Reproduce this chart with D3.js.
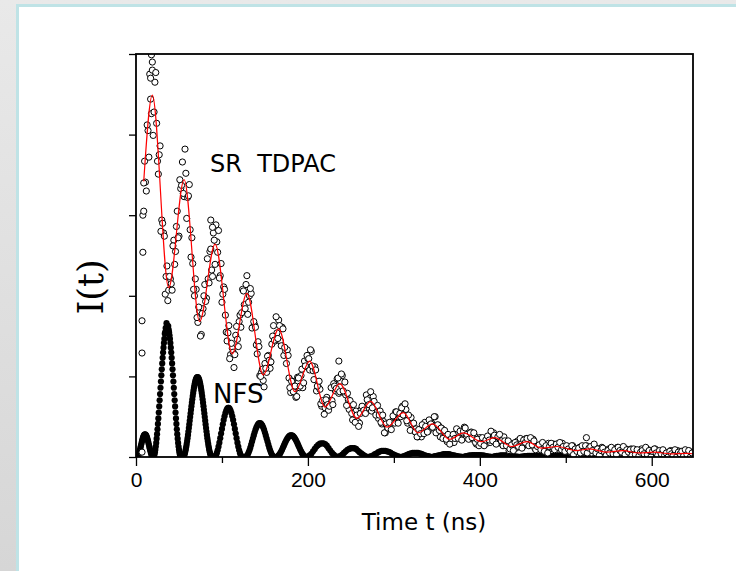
<!DOCTYPE html>
<html><head><meta charset="utf-8">
<script src="https://cdn.jsdelivr.net/npm/d3@7"></script>
<style>body{margin:0;background:#fff;} svg{display:block;}</style>
</head><body>
<svg id="chart" width="736" height="571"></svg>
<script>
// ---- axis ticks ----
const xTicks = [0, 200, 400, 600];
const xMinorTicks = [100, 300, 500];
const yTicks = [0, 1, 2, 3, 4, 5];

// ---- SR TDPAC (open circles), even channels 10..648 ns ----
const tdpacStart = 10, tdpacStep = 2;
const tdpacValues = [
3.67,3.30,4.05,4.75,4.26,3.99,4.65,4.14,3.51,3.86,2.94,2.78,2.02,2.37,2.07,2.21,2.07,2.69,2.55,3.05,
2.74,3.33,3.66,3.23,3.52,3.22,3.38,2.48,2.40,2.00,2.08,1.67,1.81,1.52,1.84,2.14,1.97,2.21,2.55,2.32,
2.78,2.39,2.67,2.81,2.25,1.92,2.11,1.76,1.44,1.63,1.27,1.35,1.11,1.51,1.46,1.68,1.61,2.08,1.89,2.14,
1.77,2.00,2.03,1.61,1.64,1.39,1.43,1.01,1.05,0.95,1.16,1.05,1.26,1.10,1.40,1.63,1.44,1.54,1.70,1.44,
1.61,1.26,1.32,1.33,0.98,0.80,0.94,0.82,0.74,0.99,0.86,1.01,0.86,1.19,1.12,1.22,1.08,1.31,1.07,1.12,
0.82,0.87,0.84,0.63,0.68,0.61,0.74,0.58,0.70,0.70,0.91,0.82,0.97,0.79,0.94,1.01,0.80,0.77,0.79,0.59,
0.65,0.46,0.53,0.57,0.44,0.42,0.59,0.57,0.55,0.77,0.65,0.73,0.57,0.75,0.63,0.62,0.48,0.57,0.41,0.44,
0.30,0.38,0.42,0.35,0.44,0.43,0.56,0.43,0.52,0.50,0.63,0.52,0.59,0.42,0.48,0.49,0.34,0.32,0.35,0.25,
0.34,0.25,0.34,0.43,0.34,0.32,0.45,0.42,0.36,0.50,0.36,0.39,0.25,0.35,0.26,0.27,0.19,0.27,0.20,0.26,
0.18,0.26,0.31,0.24,0.31,0.30,0.37,0.24,0.28,0.24,0.31,0.22,0.26,0.16,0.21,0.24,0.17,0.18,0.23,0.17,
0.25,0.18,0.25,0.30,0.21,0.18,0.27,0.21,0.16,0.25,0.15,0.17,0.08,0.17,0.12,0.15,0.11,0.20,0.14,0.20,
0.13,0.19,0.23,0.16,0.20,0.18,0.22,0.11,0.13,0.10,0.15,0.10,0.14,0.07,0.12,0.17,0.10,0.12,0.16,0.10,
0.16,0.09,0.13,0.17,0.10,0.07,0.13,0.10,0.06,0.14,0.07,0.10,0.03,0.12,0.08,0.10,0.06,0.14,0.08,0.12,
0.05,0.10,0.12,0.06,0.10,0.07,0.12,0.03,0.06,0.04,0.10,0.05,0.10,0.03,0.08,0.12,0.06,0.07,0.10,0.05,
0.10,0.03,0.07,0.10,0.04,0.01,0.08,0.05,0.02,0.10,0.05,0.07,0.01,0.09,0.05,0.07,0.03,0.10,0.04,0.07,
0.01,0.06,0.07,0.02,0.05,0.04,0.08,0.01,0.04,0.03,0.08,0.03,0.07,0.01,0.05,0.08,0.03,0.03,0.06,0.01
];
// odd channels 11..647 ns
const tdpacOddStart = 11, tdpacOddStep = 2;
const tdpacOddValues = [
3.41,4.12,3.72,4.44,4.80,4.28,4.77,3.67,3.75,2.80,2.90,2.74,2.24,1.94,2.24,2.15,2.62,2.39,2.86,2.72,
3.44,3.37,3.27,3.82,2.96,3.24,2.82,2.72,2.08,2.21,1.73,1.86,1.50,1.78,2.00,1.93,2.46,2.16,2.58,2.24,
2.69,2.88,2.54,2.22,2.40,2.02,2.08,1.55,1.54,1.22,1.41,1.30,1.27,1.62,1.37,1.76,1.79,2.06,1.84,2.25,
1.92,2.09,1.60,1.68,1.61,1.28,1.37,1.00,1.09,0.87,1.10,1.25,1.20,1.18,1.50,1.45,1.74,1.47,1.63,1.38,
1.59,1.36,1.16,1.26,0.86,0.94,0.81,0.88,0.75,0.98,0.88,1.09,0.92,1.13,1.26,
1.22,1.33,1.13,0.96,1.08,0.88,0.94,0.66,0.70,0.53,0.71,0.65,0.63,0.86,0.65,0.88,0.85,0.98,0.81,1.03,
0.82,0.93,0.64,0.71,0.70,0.54,0.65,0.43,0.52,0.38,0.54,0.63,0.58,0.54,0.71,0.65,0.81,0.61,0.69,0.52,
0.64,0.52,0.43,0.52,0.30,0.41,0.36,0.43,0.34,0.51,0.42,0.56,0.42,0.54,0.61,0.52,0.66,0.45,0.52,0.33,
0.41,0.42,0.31,0.25,0.34,0.29,0.40,0.29,0.38,0.31,0.46,0.41,0.37,0.50,0.30,0.40,0.33,0.36,0.23,0.33,
0.22,0.28,0.16,0.23,0.28,0.23,0.35,0.23,0.32,0.21,0.32,0.36,0.28,0.22,0.30,0.24,0.30,0.18,0.22,0.14,
0.17,0.24,0.14,0.21,0.26,0.21,0.32,0.20,0.27,0.16,0.25,0.28,0.20,0.14,0.20,0.14,0.20,0.10,0.15,0.08,
0.18,0.15,0.13,0.23,0.11,0.21,0.18,0.23,0.14,0.24,0.15,0.20,0.09,0.13,0.15,0.09,0.18,0.07,0.14,0.05,
0.13,0.17,0.12,0.09,0.16,0.12,0.18,0.09,0.13,0.07,0.14,0.10,0.07,0.14,0.03,0.10,0.07,0.11,0.05,0.14,
0.07,0.14,0.05,0.11,0.13,0.08,0.16,0.05,0.10,0.02,0.08,0.11,0.06,0.02,0.08,0.05,0.12,0.04,0.09,0.03,
0.12,0.08,0.06,0.13,0.03,0.09,0.06,0.09,0.02,0.10,0.03,0.09,0.01,0.06,0.08,0.04,0.12,0.03,0.08,0.00,
0.07,0.10,0.05,0.02,0.08,0.04,0.09,0.02,0.05,0.00,0.07,0.04,0.02,0.09,0.00,0.06,0.04,0.07,0.01,0.09,
0.03,0.08,0.00,0.05
];
// scattered points off the grid
const tdpacExtraTime = [7, 7, 7, 8, 8, 9, 9, 17, 18, 19, 87, 89, 236, 524];
const tdpacExtraValues = [0.06, 1.29, 1.69, 2.54, 3.00, 3.05, 3.40, 4.70, 4.99, 4.90, 2.94, 2.85, 1.19, 0.24];

// ---- fit (red line): extrema ----
const fitTime = [9,19,38,56,74,92,112,129,148,166,185,202,220,237,257,273,292,311,328,345,365,381,402,417,437,455,472,490,512,528,548,566,585,603,622,640,648];
const fitValues = [3.42,4.49,2.10,3.44,1.68,2.64,1.28,2.03,1.02,1.59,0.81,1.19,0.62,0.91,0.48,0.69,0.37,0.55,0.30,0.41,0.22,0.30,0.19,0.24,0.13,0.19,0.11,0.13,0.08,0.10,0.06,0.08,0.05,0.06,0.04,0.045,0.04];

// ---- NFS (filled dots) ----
// 0..90 ns every 0.5 ns
const nfsFineStart = 0, nfsFineStep = 0.5;
const nfsFineValues = [
0,0,0,0.002,0.008,0.017,0.03,0.045,0.064,0.084,0.106,0.128,0.151,0.174,0.196,0.216,0.235,0.251,0.263,0.272,
0.278,0.28,0.278,0.272,0.263,0.251,0.235,0.216,0.196,0.174,0.151,0.128,0.106,0.084,0.064,0.045,0.03,0.017,0.008,0.002,
0,0.004,0.015,0.033,0.059,0.091,0.13,0.175,0.227,0.283,0.344,0.41,0.479,0.552,0.627,0.703,0.781,0.859,0.937,1.013,
1.088,1.161,1.23,1.296,1.357,1.414,1.465,1.53,1.549,1.60,1.58,1.66,1.636,1.62,1.60,1.625,1.58,1.549,1.51,1.465,
1.414,1.357,1.296,1.23,1.161,1.088,1.013,0.937,0.859,0.781,0.703,0.627,0.552,0.479,0.41,0.344,0.283,0.227,0.175,0.13,
0.091,0.059,0.033,0.015,0.004,0,0,0,0,0,0.002,0.008,0.019,0.033,0.052,0.074,0.10,0.129,0.162,0.197,
0.234,0.274,0.316,0.359,0.404,0.449,0.495,0.541,0.586,0.631,0.674,0.716,0.756,0.793,0.829,0.861,0.89,0.916,0.938,0.957,
0.971,0.981,0.988,0.99,0.988,0.981,0.971,0.957,0.938,0.916,0.89,0.861,0.829,0.793,0.756,0.716,0.674,0.631,0.586,0.541,
0.495,0.449,0.404,0.359,0.316,0.274,0.234,0.197,0.162,0.129,0.10,0.074,0.052,0.033,0.019,0.008,0.002,0,0,0,
0
];
// 91..199 ns every 1 ns
const nfsMidStart = 91, nfsMidStep = 1;
const nfsMidValues = [
0,0.006,0.022,0.048,0.084,0.128,0.178,0.233,0.291,0.348,0.405,0.458,0.505,0.545,0.576,0.598,0.609,0.609,0.598,0.576,
0.545,0.505,0.458,0.405,0.348,0.291,0.233,0.178,0.128,0.084,0.048,0.022,0.006,0,0,0,0,0.004,0.014,0.031,
0.055,0.083,0.116,0.153,0.191,0.229,0.268,0.304,0.337,0.365,0.389,0.406,0.416,0.42,0.416,0.406,0.389,0.365,0.337,0.304,
0.268,0.229,0.191,0.153,0.116,0.083,0.055,0.031,0.014,0.004,0,0,0,0.002,0.009,0.019,0.033,0.051,0.071,0.093,
0.117,0.141,0.165,0.188,0.21,0.229,0.244,0.256,0.265,0.269,0.269,0.265,0.256,0.244,0.229,0.21,0.188,0.165,0.141,0.117,
0.093,0.071,0.051,0.033,0.019,0.009,0.002,0,0
];
// 200..648 ns every 2 ns
const nfsStart = 200, nfsStep = 2;
const nfsValues = [
0.005,0.02,0.04,0.07,0.10,0.13,0.15,0.165,0.17,0.17,0.16,0.14,0.11,0.08,0.05,0.03,0.01,0,
0.005,0.015,0.03,0.05,0.07,0.09,0.10,0.11,0.11,0.11,0.10,0.08,0.06,0.045,0.03,0.015,0.005,0,
0.005,0.01,0.02,0.035,0.045,0.06,0.07,0.075,0.075,0.075,0.07,0.065,0.055,0.04,0.03,0.02,0.01,0.005,0,
0.005,0.01,0.02,0.03,0.04,0.045,0.05,0.05,0.05,0.05,0.045,0.04,0.03,0.02,0.015,0.01,0.005,0,
0.005,0.01,0.015,0.02,0.025,0.03,0.035,0.035,0.035,0.035,0.03,0.025,0.02,0.015,0.01,0.005,0.005,0,
0.005,0.01,0.015,0.02,0.02,0.025,0.025,0.025,0.025,0.025,0.02,0.02,0.015,0.01,0.005,0.005,0,
0.005,0.01,0.015,0.015,0.02,0.02,0.02,0.02,0.02,0.02,0.015,0.015,0.01,0.005,0.005,0,
0.005,0.005,0.01,0.01,0.015,0.015,0.015,0.015,0.015,0.015,0.01,0.01,0.01,0.005,0.005,0,
0.005,0.005,0.01,0.01,0.01,0.01,0.01,0.01,0.01,0.005,0.005,0,0.005,0.005,0.01,0.01,0.01,0.01,0.005,0.005,
0,0.005,0.005,0.005,0.01,0.01,0.01,0.005,0.005,0,0,0.005,0.005,0.005,0.005,0.005,0.005,0,0,0,
0,0.005,0.005,0.005,0.005,0,0,0,0.005,0.005,0.005,0,0,0,0,0.005,0.005,0,0,0,
0,0,0.005,0.005,0,0,0,0,0,0.005,0,0,0,0,0,0,0,0,0,0,
0,0,0,0,0
];

// ---- labels ----
const xAxisTitle = "Time t (ns)";
const yAxisTitle = "I(t)";
const seriesLabels = ["SR  TDPAC", "NFS"];

// ================= drawing =================
const W = 736, H = 571;
const svg = d3.select("#chart");
const x = d3.scaleLinear().domain([0, 648]).range([136, 693]);
const y = d3.scaleLinear().domain([0, 5]).range([457, 54]);

const defs = svg.append("defs");
const g = defs.append("linearGradient").attr("id", "bg").attr("x1", 0).attr("y1", 0).attr("x2", 0).attr("y2", 1);
g.append("stop").attr("offset", "0%").attr("stop-color", "#e9e9e9");
g.append("stop").attr("offset", "100%").attr("stop-color", "#d6d6d6");
defs.append("clipPath").attr("id", "plotclip").append("rect")
  .attr("x", x(0)).attr("y", y(5)).attr("width", x(648) - x(0)).attr("height", y(0) - y(5));

svg.append("rect").attr("width", W).attr("height", H).attr("fill", "url(#bg)");
svg.append("rect").attr("x", 17.5).attr("y", 5.5).attr("width", 740).attr("height", 600)
  .attr("fill", "#ffffff").attr("stroke", "#bfe3e6").attr("stroke-width", 3);

const mk = (start, step, vals) => vals.map((v, i) => ({t: start + i * step, v}));
const nfsPts = [].concat(mk(nfsFineStart, nfsFineStep, nfsFineValues),
                         mk(nfsMidStart, nfsMidStep, nfsMidValues),
                         mk(nfsStart, nfsStep, nfsValues));
const tdPts = [].concat(mk(tdpacStart, tdpacStep, tdpacValues),
                        mk(tdpacOddStart, tdpacOddStep, tdpacOddValues),
                        tdpacExtraTime.map((t, i) => ({t, v: tdpacExtraValues[i]})));
const fitPts = fitTime.map((t, i) => ({t, v: fitValues[i]}));

const plot = svg.append("g").attr("clip-path", "url(#plotclip)");

plot.append("g").selectAll("circle").data(nfsPts).join("circle")
  .attr("cx", d => x(d.t)).attr("cy", d => y(d.v)).attr("r", 3.1)
  .attr("fill", "#000");

plot.append("g").selectAll("circle").data(tdPts).join("circle")
  .attr("cx", d => x(d.t)).attr("cy", d => y(d.v)).attr("r", 3.1)
  .attr("fill", "#fff").attr("stroke", "#000").attr("stroke-width", 1);

plot.append("path").datum(fitPts)
  .attr("fill", "none").attr("stroke", "#ff0000").attr("stroke-width", 1.2)
  .attr("d", d3.line().x(d => x(d.t)).y(d => y(d.v)).curve(d3.curveMonotoneX));

// axes
const xAxis = svg.append("g").attr("transform", `translate(0,${y(0)})`)
  .call(d3.axisBottom(x).tickValues(xTicks).tickSize(9).tickPadding(6).tickFormat(d3.format("d")));
const xMinor = svg.append("g").attr("transform", `translate(0,${y(0)})`)
  .call(d3.axisBottom(x).tickValues(xMinorTicks).tickSize(6).tickFormat(""));
const yAxis = svg.append("g").attr("transform", `translate(${x(0)},0)`)
  .call(d3.axisLeft(y).tickValues(yTicks).tickSize(7).tickFormat(""));
[xAxis, xMinor, yAxis].forEach(a => {
  a.select(".domain").remove();
  a.selectAll(".tick line").attr("stroke", "#000").attr("stroke-width", 1.3);
});
xAxis.selectAll(".tick text").attr("fill", "#000")
  .style("font-family", "'Liberation Sans', Arial, sans-serif").style("font-size", "21px");

// frame
svg.append("rect").attr("x", x(0)).attr("y", y(5)).attr("width", x(648) - x(0)).attr("height", y(0) - y(5))
  .attr("fill", "none").attr("stroke", "#000").attr("stroke-width", 1.8);

// titles
svg.append("text").attr("x", 424).attr("y", 530).attr("text-anchor", "middle")
  .style("font-family", "'DejaVu Sans', sans-serif").style("font-size", "23px").attr("fill", "#000")
  .text(xAxisTitle);
svg.append("text").attr("transform", "translate(103,287) rotate(-90)").attr("text-anchor", "middle")
  .style("font-family", "'DejaVu Serif', serif").style("font-size", "35px").attr("fill", "#000")
  .text(yAxisTitle);
svg.append("text").attr("x", 210).attr("y", 172).style("white-space", "pre")
  .style("font-family", "'DejaVu Sans', sans-serif").style("font-size", "24px").attr("fill", "#000")
  .text(seriesLabels[0]);
svg.append("text").attr("x", 213).attr("y", 403)
  .style("font-family", "'DejaVu Sans', sans-serif").style("font-size", "26px").attr("fill", "#000")
  .text(seriesLabels[1]);
</script>
</body></html>
